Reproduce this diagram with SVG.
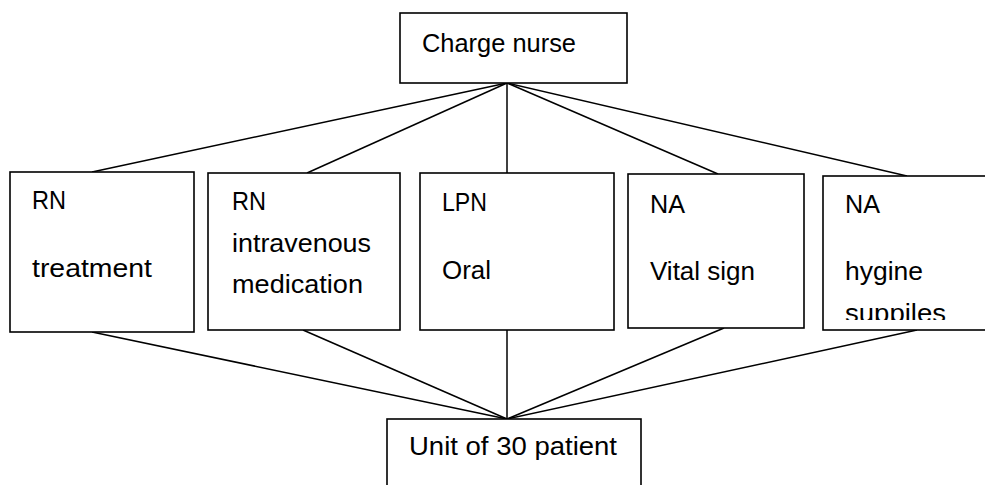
<svg xmlns="http://www.w3.org/2000/svg" width="985" height="485" viewBox="0 0 985 485">
<style>
.box{fill:#fff;stroke:#000;stroke-width:1.6}
.ln{stroke:#000;stroke-width:1.5;fill:none}
text{font-family:"Liberation Sans",Arial,sans-serif;font-size:26px;fill:#000}
</style>
<defs>
<clipPath id="clip5"><rect x="823" y="176" width="170" height="144"/></clipPath>
</defs>
<rect width="985" height="485" fill="#fff"/>
<g id="connectors">
<line class="ln" x1="507" y1="83" x2="92" y2="172"/>
<line class="ln" x1="507" y1="83" x2="307" y2="173"/>
<line class="ln" x1="507" y1="83" x2="507" y2="173"/>
<line class="ln" x1="507" y1="83" x2="718" y2="174"/>
<line class="ln" x1="507" y1="83" x2="907" y2="176"/>
<line class="ln" x1="92" y1="332" x2="507" y2="419"/>
<line class="ln" x1="303" y1="330" x2="507" y2="419"/>
<line class="ln" x1="507" y1="330" x2="507" y2="419"/>
<line class="ln" x1="724" y1="328" x2="507" y2="419"/>
<line class="ln" x1="917" y1="330" x2="507" y2="419"/>
</g>
<g id="charge-nurse">
<rect class="box" x="400" y="13" width="227" height="70"/>
<text x="422" y="52" textLength="154" lengthAdjust="spacingAndGlyphs">Charge nurse</text>
</g>
<g id="rn-treatment">
<rect class="box" x="10" y="172" width="184" height="160"/>
<text x="32" y="209" textLength="34" lengthAdjust="spacingAndGlyphs">RN</text>
<text x="32" y="277" textLength="120" lengthAdjust="spacingAndGlyphs">treatment</text>
</g>
<g id="rn-iv">
<rect class="box" x="208" y="173" width="192" height="157"/>
<text x="232" y="210" textLength="34" lengthAdjust="spacingAndGlyphs">RN</text>
<text x="232" y="252" textLength="139" lengthAdjust="spacingAndGlyphs">intravenous</text>
<text x="232" y="293" textLength="131" lengthAdjust="spacingAndGlyphs">medication</text>
</g>
<g id="lpn-oral">
<rect class="box" x="420" y="173" width="194" height="157"/>
<text x="442" y="211" textLength="45" lengthAdjust="spacingAndGlyphs">LPN</text>
<text x="442" y="279" textLength="49" lengthAdjust="spacingAndGlyphs">Oral</text>
</g>
<g id="na-vital">
<rect class="box" x="628" y="174" width="176" height="154"/>
<text x="650" y="213" textLength="35" lengthAdjust="spacingAndGlyphs">NA</text>
<text x="650" y="280" textLength="105" lengthAdjust="spacingAndGlyphs">Vital sign</text>
</g>
<g id="na-hygine">
<rect class="box" x="823" y="176" width="170" height="154"/>
<text x="845" y="213" textLength="35" lengthAdjust="spacingAndGlyphs">NA</text>
<text x="845" y="280" textLength="78" lengthAdjust="spacingAndGlyphs">hygine</text>
<text x="845" y="322" textLength="101" lengthAdjust="spacingAndGlyphs" clip-path="url(#clip5)">suppiles</text>
</g>
<g id="unit">
<rect class="box" x="387" y="419" width="254" height="80"/>
<text x="409" y="455" textLength="208" lengthAdjust="spacingAndGlyphs">Unit of 30 patient</text>
</g>
</svg>
